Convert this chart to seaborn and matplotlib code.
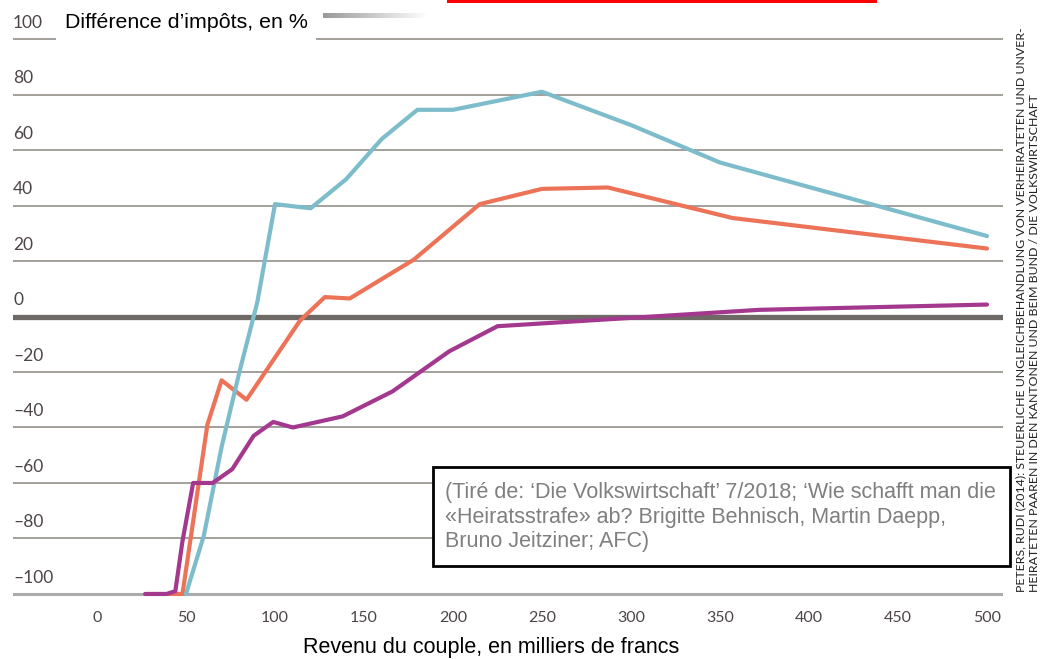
import matplotlib.pyplot as plt
import matplotlib.transforms as mtransforms
from matplotlib.colors import LinearSegmentedColormap
from matplotlib.patches import Rectangle
import numpy as np
import pandas as pd
import seaborn as sns

# Revenu du couple (milliers de francs) / différence d'impôts (%)
x_bleu = [50, 60, 70, 80, 90, 100, 120, 140, 160, 180, 200, 250, 300, 350, 500]
y_bleu = [-100, -79, -47, -20, 5, 40.5, 39, 49.5, 64, 74.5, 74.5, 81, 69, 55.5, 29]

x_orange = [40, 48, 62, 70, 84, 114, 128, 142, 178, 215, 250, 287, 357, 500]
y_orange = [-100, -100, -39, -23, -30, -1.5, 7, 6.5, 20.5, 40.5, 46, 46.5, 35.5, 24.5]

x_violet = [27, 39, 44, 48, 54, 65, 76, 88, 99, 110, 138, 166, 198, 225, 372, 500]
y_violet = [-100, -100, -99, -81, -60, -60, -55, -43, -38, -40, -36, -27, -12.5, -3.5, 2.4, 4.3]

y_ticks = [100, 80, 60, 40, 20, 0, -20, -40, -60, -80, -100]
y_labels = ['100', '80', '60', '40', '20', '0', '–20', '–40', '–60', '–80', '–100']
x_ticks = [0, 50, 100, 150, 200, 250, 300, 350, 400, 450, 500]
x_labels = [str(v) for v in x_ticks]

source = ("(Tiré de: ‘Die Volkswirtschaft’ 7/2018; ‘Wie schafft man die\n"
          "«Heiratsstrafe» ab? Brigitte Behnisch, Martin Daepp,\n"
          "Bruno Jeitziner; AFC)")
credit1 = "PETERS, RUDI (2014): STEUERLICHE UNGLEICHBEHANDLUNG VON VERHEIRATETEN UND UNVER-"
credit2 = "HEIRATETEN PAAREN IN DEN KANTONEN UND BEIM BUND / DIE VOLKSWIRTSCHAFT"

df = pd.concat([
    pd.DataFrame({'revenu': x_orange, 'diff': y_orange, 'serie': 'orange'}),
    pd.DataFrame({'revenu': x_bleu, 'diff': y_bleu, 'serie': 'bleu'}),
    pd.DataFrame({'revenu': x_violet, 'diff': y_violet, 'serie': 'violet'}),
])
palette = {'orange': '#ec7358', 'bleu': '#7dbccb', 'violet': '#a3388e'}

sns.set_theme(style='white')
plt.rcParams['font.family'] = ['Lato', 'DejaVu Sans']

W, H = 1043, 659
fig = plt.figure(figsize=(W / 100, H / 100), dpi=100)
ax = fig.add_axes([13 / W, 1 - 599.5 / H, 990 / W, 566 / H])

sns.lineplot(data=df, x='revenu', y='diff', hue='serie', palette=palette,
             lw=3, legend=False, ax=ax, sort=False, zorder=3)

ax.set_xlim(-47.2, 509)
ax.set_ylim(-102, 102)
ax.set_yticks(y_ticks)
ax.grid(axis='y', color='#8a8580', lw=1.1)
ax.set_axisbelow(True)
ax.axhline(0, color='#6e6964', lw=3.8, zorder=2)
ax.axhline(-100, color='#ababab', lw=2.2, zorder=2)
for s in ax.spines.values():
    s.set_visible(False)

ax.tick_params(axis='y', left=False, labelleft=False)
trans = mtransforms.offset_copy(ax.get_yaxis_transform(), fig=fig, y=8, units='points')
for v, lab in zip(y_ticks, y_labels):
    ax.text(0, v, lab, transform=trans, ha='left', va='baseline',
            fontsize=12.5, color='#4d4545')

ax.set_xticks(x_ticks)
ax.set_xticklabels(x_labels)
ax.tick_params(axis='x', bottom=False, pad=2, labelsize=11.5, labelcolor='#4d4545')
ax.set_xlabel('')
ax.set_ylabel('')

fig.text(491 / W, 1 - 648 / H, 'Revenu du couple, en milliers de francs',
         ha='center', va='center', fontsize=15.5, family='Liberation Sans', color='black')
fig.text(65 / W, 1 - 22 / H, 'Différence d’impôts, en %', ha='left', va='center',
         fontsize=15.4, family='Liberation Sans', color='black',
         bbox=dict(fc='white', ec='none', boxstyle='square,pad=0.4'))

# bande grise dégradée et trait rouge en haut
gax = fig.add_axes([323 / W, 1 - 18 / H, 105 / W, 5 / H])
gax.imshow(np.linspace(0, 1, 100)[None, :], aspect='auto',
           cmap=LinearSegmentedColormap.from_list('g', ['#9a9a9a', '#ffffff']))
gax.axis('off')
fig.add_artist(Rectangle((447 / W, 1 - 3 / H), 430 / W, 3 / H, transform=fig.transFigure,
                         color='#ff0000', lw=0))

# encadré source
fig.add_artist(Rectangle((433 / W, 1 - 566 / H), 577 / W, 99 / H, transform=fig.transFigure,
                         fc='white', ec='black', lw=2, zorder=5))
fig.text(445 / W, 1 - 482 / H, source, ha='left', va='top', fontsize=15.5,
         family='Liberation Sans', color='#7f7f7f', linespacing=1.22, zorder=6)

fig.text(1021 / W, 1 - 592 / H, credit1, rotation=90, ha='center', va='bottom',
         fontsize=8.9, color='#231f20')
fig.text(1034 / W, 1 - 592 / H, credit2, rotation=90, ha='center', va='bottom',
         fontsize=8.9, color='#231f20')

fig.savefig('out.png', dpi=100)
